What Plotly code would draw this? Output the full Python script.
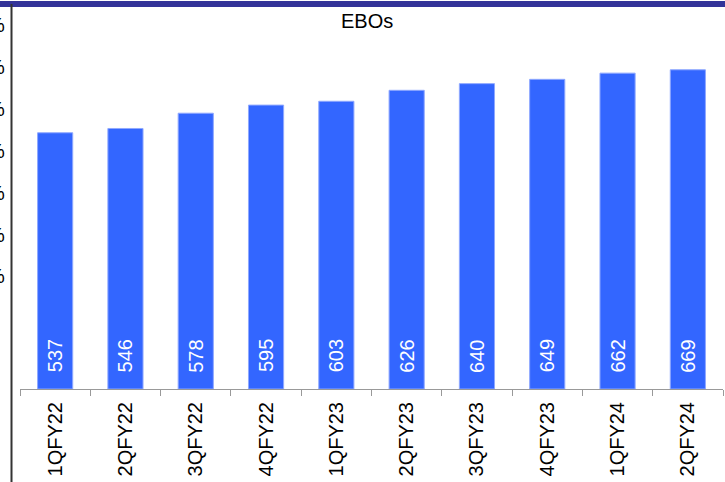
import plotly.graph_objects as go

# Quarterly EBO counts
quarters = ["1QFY22", "2QFY22", "3QFY22", "4QFY22", "1QFY23",
            "2QFY23", "3QFY23", "4QFY23", "1QFY24", "2QFY24"]
ebos = [537, 546, 578, 595, 603, 626, 640, 649, 662, 669]

# Neighbouring panel's axis labels (only their right edge shows)
left_labels = ["%", "%", "%", "%", "%", "%", "%"]

W, H = 725, 482
ML, MR, MT, MB = 20, 2, 55, 93
plot_w = W - ML - MR
plot_h = H - MT - MB
FONT = "Arial, Liberation Sans, sans-serif"


def px_x(x):
    return (x - ML) / plot_w


def px_y(y):
    return (H - MB - y) / plot_h


fig = go.Figure()
fig.add_trace(go.Bar(
    x=quarters,
    y=ebos,
    width=0.5,
    marker=dict(color="#3366FF", line=dict(color="#8FA8FF", width=1)),
    hoverinfo="x+y",
))

annotations = []
# value labels sitting at the bottom of each bar
for q, v in zip(quarters, ebos):
    annotations.append(dict(
        x=q, y=0, xref="x", yref="y", text=str(v), showarrow=False,
        textangle=-90, yanchor="middle", xanchor="center", yshift=33,
        font=dict(family=FONT, size=20, color="white"),
    ))

# chart title
annotations.append(dict(
    x=px_x(367), y=px_y(21), xref="paper", yref="paper", text="EBOs",
    showarrow=False, xanchor="center", yanchor="middle",
    font=dict(family=FONT, size=20, color="black"),
))

# clipped labels from the panel on the left
for i, t in enumerate(left_labels):
    annotations.append(dict(
        x=px_x(7), y=px_y(25 + i * 41.9), xref="paper", yref="paper", text=t,
        showarrow=False, xanchor="right", yanchor="middle",
        font=dict(family=FONT, size=20, color="black"),
    ))

shapes = [
    # header band across the top
    dict(type="rect", xref="paper", yref="paper",
         x0=px_x(0), x1=px_x(W), y0=px_y(7), y1=px_y(1),
         fillcolor="#333399", line=dict(width=0), layer="above"),
    # divider between panels
    dict(type="line", xref="paper", yref="paper",
         x0=px_x(11.5), x1=px_x(11.5), y0=px_y(4), y1=px_y(H + 2),
         line=dict(color="#333333", width=2), layer="above"),
]

fig.update_layout(
    width=W, height=H,
    margin=dict(l=ML, r=MR, t=MT, b=MB, pad=0),
    paper_bgcolor="white", plot_bgcolor="white",
    showlegend=False,
    annotations=annotations,
    shapes=shapes,
    xaxis=dict(
        type="category",
        showline=True, linecolor="#999999", linewidth=1,
        ticks="outside", tickson="boundaries", ticklen=6,
        tickcolor="#999999", tickwidth=1,
        tickangle=-90, ticklabelstandoff=4,
        tickfont=dict(family=FONT, size=20, color="black"),
        showgrid=False, zeroline=False, automargin=False,
    ),
    yaxis=dict(
        range=[0, 700], visible=False, showgrid=False, zeroline=False,
    ),
)

fig.write_html("out.html")
